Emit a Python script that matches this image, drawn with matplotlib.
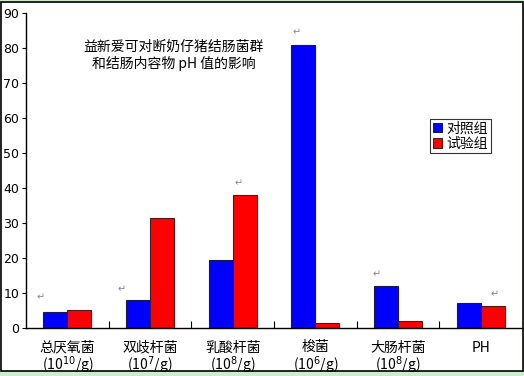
import matplotlib
matplotlib.use("Agg")
import numpy as np
import matplotlib.pyplot as plt
from matplotlib.patches import Rectangle

plt.rcParams['font.family'] = ['Noto Sans CJK SC', 'DejaVu Sans']

categories = ["总厌氧菌\n(10$^{10}$/g)", "双歧杆菌\n(10$^{7}$/g)", "乳酸杆菌\n(10$^{8}$/g)",
              "梭菌\n(10$^{6}$/g)", "大肠杆菌\n(10$^{8}$/g)", "PH"]
control = [4.6, 8.0, 19.4, 81.0, 12.0, 7.1]
trial = [5.1, 31.4, 38.0, 1.4, 2.0, 6.3]
series_names = ["对照组", "试验组"]
yticks = [0, 10, 20, 30, 40, 50, 60, 70, 80, 90]

fig = plt.figure(figsize=(5.24, 3.76), dpi=100)
fig.patch.set_facecolor('#cdeccd')
# white chart area with black frame
fig.patches.append(Rectangle((1/524, 5/376), 522/524, 369/376, transform=fig.transFigure,
                             facecolor='white', edgecolor='black', linewidth=1.2, zorder=-5))

ax = fig.add_axes([26/524, 48/376, 496/524, 315/376])
ax.set_facecolor('none')

x = np.arange(len(categories))
w = 0.29
ax.bar(x - w/2, control, w, color='#0000ff', edgecolor='#1a1a4a', linewidth=0.8, label=series_names[0])
ax.bar(x + w/2, trial, w, color='#ff0000', edgecolor='#4a1a1a', linewidth=0.8, label=series_names[1])

ax.set_xlim(-0.5, len(categories) - 0.5)
ax.set_ylim(0, 90)
ax.set_yticks(yticks)
ax.set_yticklabels([str(v) for v in yticks], fontsize=9, family='DejaVu Sans')
ax.tick_params(axis='y', direction='out', length=3, width=0.8, pad=2)

ax.set_xticks(x)
ax.set_xticklabels(categories, fontsize=10, linespacing=1.0)
ax.tick_params(axis='x', length=0, pad=9)
ax.set_xticks(np.arange(len(categories) - 1) + 0.5, minor=True)
ax.tick_params(axis='x', which='minor', direction='in', length=5, width=0.8)

for s in ['top', 'right']:
    ax.spines[s].set_visible(False)
for s in ['left', 'bottom']:
    ax.spines[s].set_linewidth(1.0)

ax.text(0.298, 0.915, "益新爱可对断奶仔猪结肠菌群\n和结肠内容物 pH 值的影响", transform=ax.transAxes,
        ha='center', va='top', fontsize=10, linespacing=1.15)

# paragraph marks
marks = [(-0.37, 8.0), (0.61, 10.3), (2.02, 40.6), (2.72, 83.7), (3.69, 14.6), (5.12, 8.9)]
for mx, my in marks:
    ax.text(mx, my, "↵", fontsize=7, color='#888888', family='DejaVu Sans')

leg = ax.legend(loc='upper left', bbox_to_anchor=(0.814, 0.665), fontsize=10, frameon=True,
                fancybox=False, edgecolor='black', handlelength=0.7, handleheight=0.7,
                handletextpad=0.3, borderpad=0.2, labelspacing=0.1, borderaxespad=0)
leg.get_frame().set_linewidth(0.8)

fig.savefig("out.png", dpi=100, facecolor=fig.get_facecolor())
